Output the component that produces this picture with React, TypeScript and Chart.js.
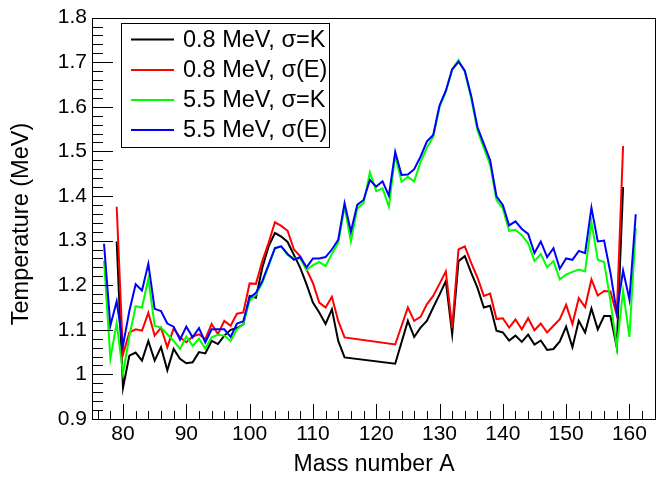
import React, { useEffect, useRef } from "react";
import { Chart, registerables } from "chart.js";

Chart.register(...registerables);

// Mass numbers A (x values)
const massNumbers = [
  77, 78, 79, 80, 81, 82, 83, 84, 85, 86,
  87, 88, 89, 90, 91, 92, 93, 94, 95, 96,
  97, 98, 99, 100, 101, 102, 103, 104, 105, 106,
  107, 108, 109, 110, 111, 112, 113, 114, 115, 116,
  117, 118, 119, 120, 121, 122, 123, 124, 125, 126,
  127, 128, 129, 130, 131, 132, 133, 134, 135, 136,
  137, 138, 139, 140, 141, 142, 143, 144, 145, 146,
  147, 148, 149, 150, 151, 152, 153, 154, 155, 156,
  157, 158, 159, 160, 161,
];

// 0.8 MeV, sigma = K
const lowK = [
  null, null, 1.298, 0.970, 1.042, 1.049, 1.031, 1.075, 1.031, 1.061,
  1.009, 1.057, 1.035, 1.025, 1.027, 1.050, 1.047, 1.075, 1.068, 1.087,
  1.100, 1.104, 1.112, 1.176, 1.172, 1.239, 1.287, 1.317, 1.309, 1.297,
  1.268, 1.239, 1.202, 1.161, 1.139, 1.113, 1.146, 1.075, 1.038, null,
  null, null, null, null, null, null, 1.024, null, 1.120, 1.084,
  1.105, 1.120, 1.150, 1.179, 1.209, 1.090, 1.254, 1.265, 1.228, 1.194,
  1.150, 1.154, 1.098, 1.094, 1.076, 1.087, 1.073, 1.089, 1.067, 1.076,
  1.055, 1.057, 1.074, 1.107, 1.061, 1.120, 1.094, 1.148, 1.101, 1.131,
  1.131, 1.061, 1.420, null, null,
];

// 0.8 MeV, sigma(E)
const lowE = [
  null, null, 1.376, 1.045, 1.094, 1.101, 1.098, 1.138, 1.087, 1.105,
  1.061, 1.103, 1.083, 1.072, 1.085, 1.090, 1.079, 1.113, 1.090, 1.120,
  1.109, 1.136, 1.139, 1.204, 1.203, 1.254, 1.295, 1.341, 1.333, 1.322,
  1.280, 1.265, 1.235, 1.205, 1.161, 1.150, 1.174, 1.120, 1.083, null,
  null, null, null, null, null, null, 1.067, null, 1.150, 1.120,
  1.129, 1.157, 1.176, 1.203, 1.231, 1.105, 1.280, 1.287, 1.250, 1.217,
  1.176, 1.181, 1.124, 1.126, 1.105, 1.123, 1.101, 1.126, 1.099, 1.114,
  1.094, 1.109, 1.124, 1.156, 1.113, 1.171, 1.151, 1.213, 1.177, 1.187,
  1.186, 1.133, 1.512, null, null,
];

// 5.5 MeV, sigma = K
const highK = [
  1.255, 1.035, 1.115, 1.002, 1.085, 1.153, 1.150, 1.215, 1.109, 1.105,
  1.090, 1.075, 1.057, 1.085, 1.064, 1.080, 1.058, 1.083, 1.089, 1.087,
  1.075, 1.101, 1.113, 1.165, 1.179, 1.205, 1.243, 1.283, 1.287, 1.268,
  1.260, 1.260, 1.234, 1.245, 1.252, 1.243, 1.270, 1.295, 1.376, 1.298,
  1.372, 1.384, 1.453, 1.411, 1.417, 1.376, 1.491, 1.432, 1.443, 1.433,
  1.476, 1.508, 1.532, 1.599, 1.634, 1.683, 1.705, 1.678, 1.619, 1.547,
  1.508, 1.470, 1.391, 1.372, 1.322, 1.324, 1.312, 1.294, 1.254, 1.270,
  1.240, 1.254, 1.213, 1.224, 1.230, 1.235, 1.231, 1.341, 1.257, 1.252,
  1.165, 1.061, 1.187, 1.084, 1.328,
];

// 5.5 MeV, sigma(E)
const highE = [
  1.293, 1.109, 1.164, 1.065, 1.142, 1.202, 1.188, 1.248, 1.147, 1.142,
  1.114, 1.107, 1.078, 1.107, 1.083, 1.104, 1.072, 1.101, 1.101, 1.101,
  1.084, 1.114, 1.119, 1.172, 1.183, 1.209, 1.246, 1.283, 1.287, 1.270,
  1.257, 1.263, 1.240, 1.260, 1.260, 1.263, 1.280, 1.302, 1.384, 1.320,
  1.380, 1.391, 1.436, 1.421, 1.433, 1.401, 1.499, 1.447, 1.448, 1.460,
  1.488, 1.522, 1.537, 1.603, 1.636, 1.684, 1.701, 1.681, 1.625, 1.554,
  1.517, 1.480, 1.399, 1.380, 1.334, 1.343, 1.326, 1.315, 1.272, 1.298,
  1.263, 1.283, 1.237, 1.260, 1.257, 1.277, 1.272, 1.374, 1.298, 1.300,
  1.228, 1.139, 1.233, 1.168, 1.359,
];

const seriesLabels = ["0.8 MeV, \u03c3=K", "0.8 MeV, \u03c3(E)", "5.5 MeV, \u03c3=K", "5.5 MeV, \u03c3(E)"];
const seriesColors = ["#000000", "#ff0000", "#00ff00", "#0000ff"];

const xTitle = "Mass number A";
const yTitle = "Temperature (MeV)";
const xTickLabels = [80, 90, 100, 110, 120, 130, 140, 150, 160];
const yTickLabels = [0.9, 1.0, 1.1, 1.2, 1.3, 1.4, 1.5, 1.6, 1.7, 1.8];
const xMinorStep = 2;
const yMinorStep = 0.02;

const FONT = "'Liberation Sans', Arial, Helvetica, sans-serif";

function toPoints(values: (number | null)[]) {
  const pts: { x: number; y: number }[] = [];
  values.forEach((v, i) => {
    if (v !== null) pts.push({ x: massNumbers[i], y: v });
  });
  return pts;
}

const framePlugin = {
  id: "rootFrame",
  afterDatasetsDraw(chart: any) {
    const { ctx, chartArea: a } = chart;
    const xs = chart.scales.x;
    const ys = chart.scales.y;
    ctx.save();
    ctx.strokeStyle = "#000";
    ctx.lineWidth = 1;
    ctx.beginPath();
    const xStart = Math.ceil(xs.min / xMinorStep) * xMinorStep;
    for (let v = xStart; v <= xs.max + 1e-9; v += xMinorStep) {
      const px = Math.round(xs.getPixelForValue(v)) + 0.5;
      const major = xTickLabels.includes(v);
      const len = major ? 15 : 8;
      ctx.moveTo(px, a.bottom);
      ctx.lineTo(px, a.bottom - len);
    }
    const nY = Math.round((ys.max - ys.min) / yMinorStep);
    for (let k = 0; k <= nY; k++) {
      const v = ys.min + k * yMinorStep;
      const py = Math.round(ys.getPixelForValue(v)) + 0.5;
      const len = k % 5 === 0 ? 21 : 11;
      ctx.moveTo(a.left, py);
      ctx.lineTo(a.left + len, py);
    }
    ctx.stroke();
    ctx.strokeRect(Math.round(a.left) + 0.5, Math.round(a.top) + 0.5, Math.round(a.right - a.left) - 1, Math.round(a.bottom - a.top));
    ctx.restore();
  },
  afterDraw(chart: any) {
    const { ctx, chartArea: a } = chart;
    ctx.save();
    // axis titles
    ctx.fillStyle = "#000";
    ctx.font = `23px ${FONT}`;
    ctx.textAlign = "center";
    ctx.textBaseline = "middle";
    ctx.fillText(xTitle, (a.left + a.right) / 2, 465);
    ctx.save();
    ctx.translate(22, 224);
    ctx.rotate(-Math.PI / 2);
    ctx.font = `23.5px ${FONT}`;
    ctx.fillText(yTitle, 0, 0);
    ctx.restore();

    // legend
    const bx = 121, by = 23, bw = 208, bh = 124;
    ctx.fillStyle = "#fff";
    ctx.fillRect(bx, by, bw, bh);
    ctx.strokeStyle = "#000";
    ctx.lineWidth = 1;
    ctx.strokeRect(bx + 0.5, by + 0.5, bw, bh);
    const rows = [39.5, 70, 100, 130];
    ctx.font = `23.5px ${FONT}`;
    ctx.textBaseline = "middle";
    ctx.textAlign = "left";
    chart.data.datasets.forEach((ds: any, i: number) => {
      const yy = rows[i];
      ctx.strokeStyle = ds.borderColor;
      ctx.lineWidth = 2;
      ctx.beginPath();
      ctx.moveTo(131, yy);
      ctx.lineTo(174, yy);
      ctx.stroke();
      ctx.fillStyle = "#000";
      ctx.fillText(ds.label, 183, yy + 1);
    });
    ctx.restore();
  },
};

export default function App() {
  const canvasRef = useRef<HTMLCanvasElement | null>(null);

  useEffect(() => {
    document.body.style.margin = "0";
    const canvas = canvasRef.current;
    if (!canvas) return;
    const series = [lowK, lowE, highK, highE];
    const drawOrder = [3, 2, 1, 0];
    const chart = new Chart(canvas, {
      type: "line",
      data: {
        datasets: series.map((s, i) => ({
          label: seriesLabels[i],
          data: toPoints(s),
          borderColor: seriesColors[i],
          backgroundColor: seriesColors[i],
          borderWidth: 2,
          pointRadius: 0,
          tension: 0,
          fill: false,
          order: drawOrder[i],
        })),
      },
      options: {
        responsive: false,
        animation: false,
        devicePixelRatio: 1,
        layout: { padding: { top: 15, right: 2, left: 0, bottom: 0 } },
        plugins: { legend: { display: false }, tooltip: { enabled: false } },
        scales: {
          x: {
            type: "linear",
            min: 75.1,
            max: 164.2,
            grid: { display: false, drawTicks: false },
            border: { display: false },
            afterFit: (s: any) => { s.height = 59; },
            afterBuildTicks: (s: any) => { s.ticks = xTickLabels.map((v) => ({ value: v })); },
            ticks: {
              color: "#000",
              font: { family: FONT, size: 21 },
              padding: 3,
              maxRotation: 0,
              autoSkip: false,
              callback: (v: any) => String(v),
            },
            title: { display: false },
          },
          y: {
            type: "linear",
            min: 0.9,
            max: 1.8,
            grid: { display: false, drawTicks: false },
            border: { display: false },
            afterFit: (s: any) => { s.width = 92; },
            afterBuildTicks: (s: any) => { s.ticks = yTickLabels.map((v) => ({ value: v })); },
            ticks: {
              color: "#000",
              font: { family: FONT, size: 21 },
              padding: 5,
              autoSkip: false,
              callback: (v: any) => String(Number(Number(v).toFixed(1))),
            },
            title: { display: false },
          },
        },
      },
      plugins: [framePlugin],
    } as any);
    return () => chart.destroy();
  }, []);

  return (
    <div style={{ width: 658, height: 478, background: "#fff" }}>
      <canvas ref={canvasRef} width={658} height={478} style={{ display: "block" }} />
    </div>
  );
}
